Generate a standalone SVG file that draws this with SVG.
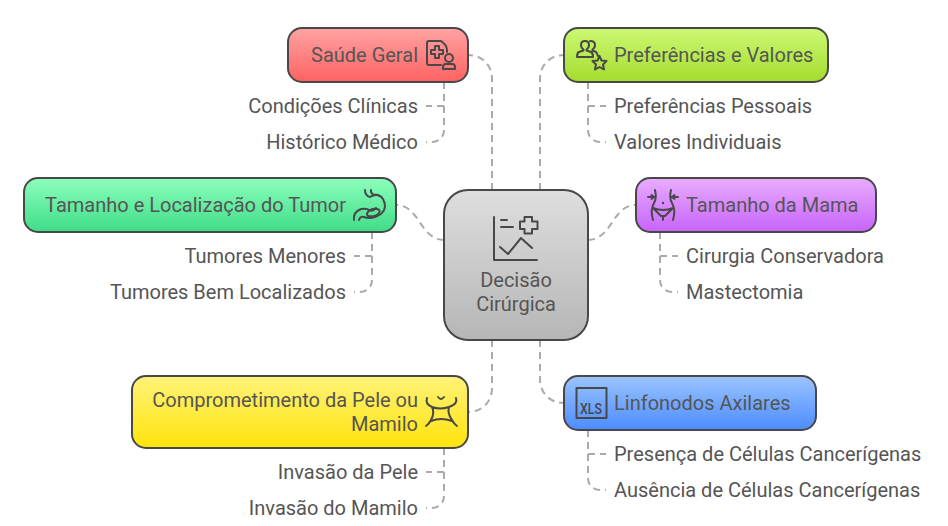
<svg xmlns="http://www.w3.org/2000/svg" width="948" height="526" viewBox="0 0 948 526">
<style>
text{font-family:Roboto,"Liberation Sans",sans-serif;font-size:20px;fill:#555}
.e{text-anchor:end}
.m{text-anchor:middle}
.n{stroke:#484848;stroke-width:2}
.i{fill:none;stroke:#484848;stroke-width:2;stroke-linecap:round;stroke-linejoin:round}
#connectors path{fill:none;stroke:#aaa;stroke-width:2;stroke-dasharray:7 5}
</style>
<defs>
<linearGradient id="gr" x1="0" y1="0" x2="0" y2="1"><stop offset="0" stop-color="#ffa3a3"/><stop offset="1" stop-color="#ff6262"/></linearGradient>
<linearGradient id="gl" x1="0" y1="0" x2="0" y2="1"><stop offset="0" stop-color="#ccf873"/><stop offset="1" stop-color="#a5dc2e"/></linearGradient>
<linearGradient id="gt" x1="0" y1="0" x2="0" y2="1"><stop offset="0" stop-color="#8cffbd"/><stop offset="1" stop-color="#3fdc88"/></linearGradient>
<linearGradient id="gp" x1="0" y1="0" x2="0" y2="1"><stop offset="0" stop-color="#e8adff"/><stop offset="1" stop-color="#c863fb"/></linearGradient>
<linearGradient id="gy" x1="0" y1="0" x2="0" y2="1"><stop offset="0" stop-color="#fff27a"/><stop offset="1" stop-color="#ffe40a"/></linearGradient>
<linearGradient id="gb" x1="0" y1="0" x2="0" y2="1"><stop offset="0" stop-color="#9cc4ff"/><stop offset="1" stop-color="#4c8cff"/></linearGradient>
<linearGradient id="gc" x1="0" y1="0" x2="0" y2="1"><stop offset="0" stop-color="#dedede"/><stop offset="1" stop-color="#b6b6b6"/></linearGradient>
</defs>
<rect width="948" height="526" fill="#fff"/>
<g id="connectors">
<path d="M492,190V79C492,65 482,55 468,55"/>
<path d="M540,190V79C540,65 550,55 564,55"/>
<path d="M444,240C420,240 420,205 396,205"/>
<path d="M588,240C612,240 612,205 636,205"/>
<path d="M492,340V388C492,402 482,412 468,412"/>
<path d="M540,340V379C540,393 550,403 564,403"/>
<path d="M444,82V106H426"/>
<path d="M444,82V130C444,137 439,142 432,142H426"/>
<path d="M588,82V106H606"/>
<path d="M588,82V130C588,137 593,142 600,142H606"/>
<path d="M372,232V256H354"/>
<path d="M372,232V280C372,287 367,292 360,292H354"/>
<path d="M660,232V256H678"/>
<path d="M660,232V280C660,287 665,292 672,292H678"/>
<path d="M444,448V472H426"/>
<path d="M444,448V496C444,503 439,508 432,508H426"/>
<path d="M588,430V454H606"/>
<path d="M588,430V478C588,485 593,490 600,490H606"/>
</g>
<g id="center">
<rect class="n" x="444" y="190" width="144" height="150" rx="24" fill="url(#gc)"/>
<path class="i" d="M494,217V260H537M501,220H507M501,227H513M500,247L508,254L521,238L532,248"/>
<path class="i" d="M524.500,217H532V221.500H537.500V229H532V233.500H524.500V229H520V221.500H524.500Z"/>
<text class="m" x="516" y="287">Decisão</text>
<text class="m" x="516" y="311">Cirúrgica</text>
</g>
<g id="saude">
<rect class="n" x="288" y="28" width="180" height="54" rx="14" fill="url(#gr)"/>
<text class="e" x="418" y="62">Saúde Geral</text>
<path class="i" d="M441,65H429Q427,65 427,63V43Q427,41 429,41H441Q447,45 447,50V52"/>
<path class="i" d="M435,46H439V50H443V54H439V58H435V54H431V50H435Z"/>
<circle class="i" cx="449" cy="58" r="4"/>
<path class="i" d="M443,69V67Q443,64 446,64H452Q455,64 455,67V69Z"/>
</g>
<g id="preferencias">
<rect class="n" x="564" y="28" width="264" height="54" rx="14" fill="url(#gl)"/>
<text x="614" y="62">Preferências e Valores</text>
<path class="i" d="M581,45Q581,41 585,41Q589,41 589,45Q589,48 586.500,49.500V50.500L591,52Q593,53 593,57H577Q577,53 579,52L583.500,50.500V49.500Q581,48 581,45ZM590,41Q595,41 595,45Q595,48 592.500,49.500V50.500L596,52Q597,53 598,56"/>
<path class="i" d="M599.500,56L601.500,60.500L606.500,61L603,64.500L604,69.500L599.500,67L595,69.500L596,64.500L592.500,61L597.500,60.500Z"/>
</g>
<g id="tumor">
<rect class="n" x="24" y="178" width="372" height="54" rx="14" fill="url(#gt)"/>
<text class="e" x="346" y="212">Tamanho e Localização do Tumor</text>
<path class="i" d="M365,190Q365,196 370,197Q378,192 383,199Q388,208 381,214Q372,220 364,217Q360,216 359,220"/>
<path class="i" d="M371,190V192Q372,195 376,195M354,220Q353,212 361,209Q367,208 369,210Q373,212 376,208M368,212Q371,208 377,209Q381,210 379,213Q376,217 368,216Q366,214 368,212Z"/>
</g>
<g id="mama">
<rect class="n" x="636" y="178" width="240" height="54" rx="14" fill="url(#gp)"/>
<text x="686" y="212">Tamanho da Mama</text>
<path class="i" d="M655,190Q657,198 654,203Q650,210 653,220M671,190Q669,198 672,203Q676,210 673,220M648,197H654M651.500,195L654,197L651.500,199M678,197H672M674.500,195L672,197L674.500,199M653,208Q663,212 673,208L665,216H661ZM663,216V220"/>
<circle cx="663" cy="203" r="1.200" fill="#484848"/>
</g>
<g id="comprometimento">
<rect class="n" x="132" y="376" width="336" height="72" rx="14" fill="url(#gy)"/>
<text class="e" x="418" y="407">Comprometimento da Pele ou</text>
<text class="e" x="418" y="431">Mamilo</text>
<path class="i" d="M427,398Q425,404 432,407Q435,413 431,420Q429,424 426,426M456,398Q458,404 449,407Q447,413 452,420Q454,424 457,426M432,407Q440,410 449,407M431,421Q441,417 452,421M438,397Q441,401 444,397"/>
<circle cx="441" cy="419" r="1" fill="#484848"/>
</g>
<g id="linfonodos">
<rect class="n" x="564" y="376" width="252" height="54" rx="14" fill="url(#gb)"/>
<text x="614" y="410">Linfonodos Axilares</text>
<rect class="i" x="576.500" y="388" width="30" height="30"/>
<text x="591" y="413.500" class="m" style="font-size:15px;font-weight:500;fill:#484848" textLength="22" lengthAdjust="spacingAndGlyphs">XLS</text>
</g>
<g id="labels">
<text class="e" x="418" y="113">Condições Clínicas</text>
<text class="e" x="418" y="149">Histórico Médico</text>
<text x="614" y="113">Preferências Pessoais</text>
<text x="614" y="149">Valores Individuais</text>
<text class="e" x="346" y="263">Tumores Menores</text>
<text class="e" x="346" y="299">Tumores Bem Localizados</text>
<text x="686" y="263">Cirurgia Conservadora</text>
<text x="686" y="299">Mastectomia</text>
<text class="e" x="418" y="479">Invasão da Pele</text>
<text class="e" x="418" y="515">Invasão do Mamilo</text>
<text x="614" y="461">Presença de Células Cancerígenas</text>
<text x="614" y="497">Ausência de Células Cancerígenas</text>
</g>
</svg>
